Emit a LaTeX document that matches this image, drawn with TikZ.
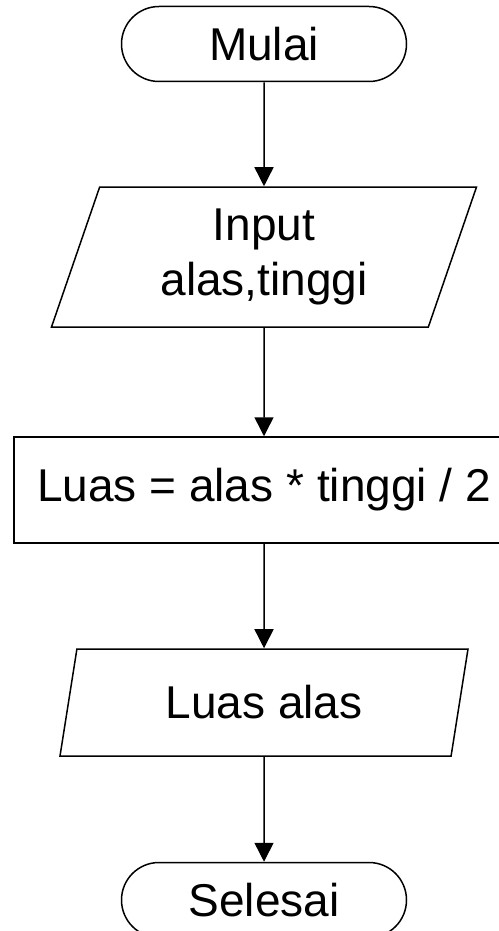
\documentclass[tikz,border=0pt]{standalone}
\usepackage{fontspec}
\setmainfont{Liberation Sans}
\usetikzlibrary{arrows.meta,shapes.geometric,shapes.misc}

\begin{document}
\begin{tikzpicture}[x=1pt,y=-1pt,>={Triangle[length=19pt,width=19pt]},
  every node/.style={font=\fontsize{46}{55}\selectfont,line width=1.5pt,inner sep=0pt},
  term/.style={rounded rectangle,draw,minimum width=285pt,minimum height=75pt},
  io/.style={trapezium,draw,trapezium left angle=63.4,trapezium right angle=116.6,trapezium stretches body,align=center},
  proc/.style={rectangle,draw,minimum width=500pt,minimum height=106pt},
  flow/.style={->,line width=1.5pt}]
  \useasboundingbox (0,0) rectangle (498,931);
  \node[term] (mulai) at (264,44) {Mulai};
  \node[io,minimum width=425pt,minimum height=140pt] (input) at (264,257) {Input\\alas,tinggi};
  \node[proc] (luas) at (264,490) {Luas = alas * tinggi / 2};
  \node[io,minimum width=408pt,minimum height=107pt] (output) at (264,702.5) {Luas alas};
  \node[term] (selesai) at (264,900) {Selesai};
  \draw[flow] (mulai) -- (input);
  \draw[flow] (input) -- (luas);
  \draw[flow] (luas) -- (output);
  \draw[flow] (output) -- (selesai);
\end{tikzpicture}
\end{document}
